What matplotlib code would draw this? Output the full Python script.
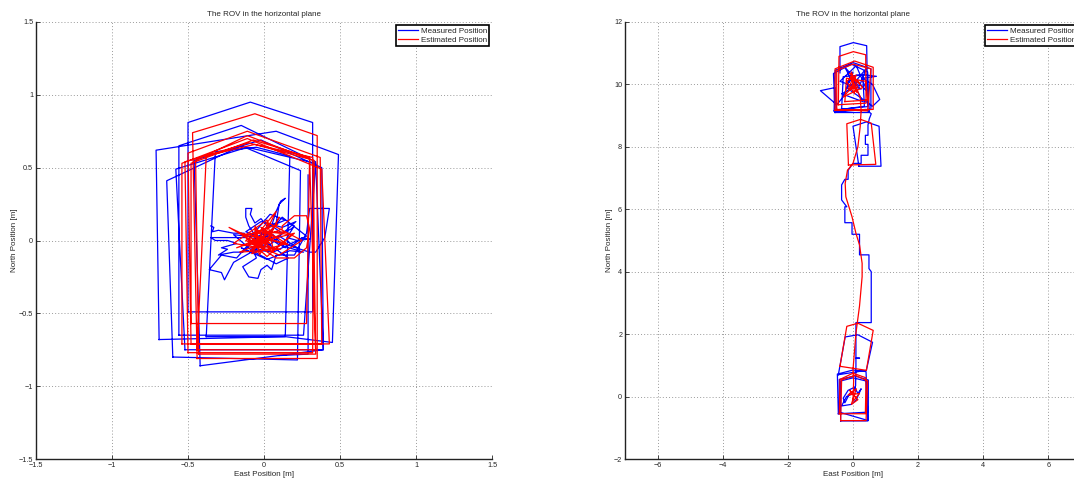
import numpy as np
import matplotlib
matplotlib.use("Agg")
import matplotlib.pyplot as plt

nan = np.nan

# ---------------- Left panel data (East, North) ----------------
left_meas_x = [
    -0.50, -0.50, -0.09, 0.32, 0.32, -0.50, nan,
    -0.69, -0.71, 0.08, 0.49, 0.45, 0.14, -0.69, nan,
    -0.56, -0.56, -0.15, 0.34, 0.26, -0.56, nan,
    -0.60, -0.64, -0.15, 0.24, 0.22, -0.60, nan,
    -0.52, -0.58, -0.11, 0.34, 0.39, -0.52, nan,
    -0.42, -0.46, -0.02, 0.38, 0.39, -0.42, nan,
    -0.38, -0.32, -0.05, 0.17, 0.14, -0.38, nan,
    0.29, 0.29, 0.10, nan,
    -0.35, -0.33, -0.34, -0.30, -0.20, -0.13, -0.12, -0.35, -0.32, -0.24,
    -0.18, -0.28, -0.24, -0.30, -0.20, -0.14, -0.10, -0.05, -0.10, -0.12,
    -0.12, -0.08, -0.09, -0.06, -0.02, 0.02, 0.08, 0.10, 0.14, 0.11,
    0.08, 0.05, 0.12, 0.18, 0.20, 0.15, 0.22, 0.30, 0.25, 0.18,
    0.30, 0.34, 0.40, 0.43, 0.30, 0.28, 0.20, 0.08, 0.05, 0.02,
    -0.02, -0.04, -0.10, -0.14, -0.05, -0.08, 0.00, -0.20, -0.26, -0.28,
    -0.36, -0.28, -0.18, -0.08, 0.00, 0.08, 0.14, 0.06, -0.02, 0.10,
    0.22, 0.05, -0.12, -0.02, 0.12, 0.21, 0.05, -0.07, -0.15, 0.02,
    0.17, 0.26, 0.10, -0.04, -0.10, 0.04, 0.14, 0.00, -0.06, 0.08,
    0.16, -0.03, -0.20, -0.09, 0.06, 0.28, 0.12, -0.01,
]
left_meas_y = [
    -0.49, 0.81, 0.95, 0.81, -0.49, -0.49, nan,
    -0.68, 0.62, 0.75, 0.59, -0.70, -0.66, -0.68, nan,
    -0.65, 0.65, 0.79, 0.54, -0.65, -0.65, nan,
    -0.80, 0.41, 0.65, 0.48, -0.82, -0.80, nan,
    -0.75, 0.49, 0.64, 0.53, -0.75, -0.75, nan,
    -0.86, 0.55, 0.69, 0.50, -0.75, -0.86, nan,
    -0.66, 0.61, 0.64, 0.58, -0.66, -0.66, nan,
    0.45, -0.78, -0.79, nan,
    0.10, 0.09, 0.06, 0.07, 0.05, 0.05, 0.02, 0.02, 0.00, 0.00,
    -0.02, -0.05, -0.06, -0.10, -0.08, -0.08, -0.04, 0.02, 0.10, 0.16,
    0.22, 0.22, 0.18, 0.12, 0.15, 0.10, 0.12, 0.25, 0.29, 0.27,
    0.20, 0.10, 0.05, 0.08, 0.10, 0.02, 0.00, 0.01, 0.02, -0.04,
    -0.08, -0.08, 0.02, 0.22, 0.22, 0.05, -0.10, -0.10, -0.20, -0.17,
    -0.20, -0.26, -0.25, -0.18, -0.12, -0.05, -0.03, -0.15, -0.27, -0.22,
    -0.20, -0.10, -0.12, 0.00, 0.05, 0.00, -0.05, 0.04, -0.01, 0.03,
    -0.05, 0.00, 0.06, 0.13, 0.09, 0.13, -0.02, -0.09, -0.05, -0.13,
    -0.07, -0.08, -0.03, 0.07, 0.01, 0.18, 0.14, 0.08, -0.08, -0.16,
    -0.12, 0.02, 0.04, -0.06, -0.08, 0.03, 0.16, 0.00,
]

left_est_x = [
    -0.44, -0.47, -0.06, 0.35, 0.35, -0.44, nan,
    -0.48, -0.50, -0.11, 0.37, 0.38, -0.48, nan,
    -0.54, -0.54, -0.11, 0.38, 0.43, -0.54, nan,
    -0.50, -0.52, -0.10, 0.33, 0.32, -0.50, nan,
    -0.48, -0.48, -0.07, 0.30, 0.28, -0.48, nan,
    -0.44, -0.38, -0.06, 0.32, 0.34, -0.44, nan,
    -0.43, -0.45, -0.11, 0.30, 0.34, -0.43, nan,
    -0.05, -0.23, 0.00, 0.10, -0.03, -0.06, 0.05, 0.20, -0.10, 0.08,
    -0.04, -0.15, 0.15, -0.08, 0.03, 0.25, 0.10, -0.12, 0.00, 0.05,
    -0.18, 0.12, 0.12, 0.20, 0.28, 0.30, 0.28, 0.20, 0.08, -0.02,
    -0.20, 0.02, 0.06, -0.07, 0.14, -0.09, 0.00, 0.04, -0.04, 0.09,
    -0.13, 0.02, 0.18, -0.06, -0.01, 0.11, -0.16, 0.07, -0.02, 0.16,
    -0.09, 0.01, -0.05,
]
left_est_y = [
    -0.81, 0.74, 0.87, 0.72, -0.81, -0.81, nan,
    -0.71, 0.60, 0.75, 0.57, -0.71, -0.71, nan,
    -0.71, 0.53, 0.70, 0.49, -0.71, -0.71, nan,
    -0.77, 0.54, 0.67, 0.55, -0.77, -0.77, nan,
    -0.57, 0.53, 0.69, 0.57, -0.57, -0.57, nan,
    -0.75, 0.58, 0.66, 0.57, -0.75, -0.75, nan,
    -0.78, 0.55, 0.72, 0.56, -0.78, -0.78, nan,
    0.00, 0.09, -0.05, 0.16, -0.10, 0.10, -0.08, 0.05, -0.03, 0.20,
    -0.05, 0.05, -0.02, -0.09, 0.12, 0.00, -0.10, 0.00, 0.08, 0.03,
    -0.05, 0.08, 0.10, 0.17, 0.17, 0.08, -0.05, -0.12, -0.12, -0.05,
    -0.02, 0.14, -0.06, 0.05, 0.06, -0.07, 0.02, -0.02, 0.00, 0.11,
    0.03, -0.11, 0.04, 0.07, -0.04, -0.06, -0.08, 0.02, 0.09, -0.03,
    0.04, -0.01, 0.01,
]

# ---------------- Right panel data (East, North) ----------------
right_meas_x = [
    -0.10, -0.25, -0.30, -0.15, 0.05, 0.15, 0.25, 0.10, -0.05, -0.35,
    -0.20, 0.00, 0.08, 0.09, 0.09, 0.20, 0.09, 0.09, 0.56, 0.56,
    0.49, 0.49, 0.20, 0.20, -0.03, -0.03, -0.25, -0.25, -0.19, -0.35,
    -0.35, -0.25, -0.15, -0.15, 0.00, 0.25, 0.25, 0.46, 0.46, 0.38,
    0.38, 0.46, 0.46, 0.50, 0.56, 0.40,
    -0.50, -0.55, -1.00, -0.50, -0.30, 0.00, -0.20, 0.10, 0.40, 0.72,
    0.30, 0.60, 0.82, 0.60, 0.20, -0.20, 0.10, -0.10, 0.20, 0.40,
    0.00, -0.15, 0.15, 0.05, -0.35, 0.30, -0.25, 0.45, 0.10, -0.40,
    0.25, 0.00, nan,
    -0.40, -0.40, 0.01, 0.42, 0.45, -0.40, nan,
    -0.58, -0.55, 0.00, 0.55, 0.55, -0.58, nan,
    -0.55, -0.60, -0.05, 0.45, 0.50, -0.55, nan,
    -0.35, -0.30, 0.30, 0.35, -0.35, nan,
    0.18, 0.00, 0.41, 0.80, 0.86, 0.18, nan,
    -0.45, -0.24, 0.15, 0.60, 0.41, -0.45, nan,
    -0.42, -0.42, 0.06, 0.47, 0.47, -0.42, nan,
    -0.45, -0.48, 0.00, 0.40, 0.45, -0.45, nan,
    -0.38, -0.38, 0.00, 0.40, 0.45, -0.38,
]
right_meas_y = [
    0.10, -0.20, -0.05, 0.20, 0.30, 0.10, 0.25, -0.10, -0.25, -0.30,
    0.00, 0.10, 0.35, 1.00, 1.23, 1.23, 1.23, 2.37, 2.37, 4.00,
    4.10, 4.54, 4.54, 5.20, 5.20, 5.57, 5.57, 6.08, 6.08, 6.30,
    6.78, 6.96, 6.96, 7.25, 7.47, 7.47, 7.73, 7.73, 8.08, 8.08,
    8.37, 8.37, 8.70, 8.90, 9.06, 9.20,
    9.12, 9.90, 9.80, 9.35, 9.60, 10.40, 10.00, 10.30, 10.30, 10.26,
    10.20, 10.00, 9.52, 9.30, 9.60, 9.90, 10.10, 10.20, 9.95, 10.50,
    10.00, 9.80, 10.15, 9.90, 9.70, 9.45, 10.55, 9.75, 10.60, 10.10,
    9.85, 10.05, nan,
    10.37, 11.21, 11.34, 11.24, 9.29, 9.20, nan,
    9.15, 10.45, 10.70, 10.50, 9.20, 9.15, nan,
    9.10, 10.35, 10.65, 10.40, 9.10, 9.10, nan,
    9.20, 10.25, 10.30, 9.30, 9.20, nan,
    7.38, 8.66, 8.80, 8.66, 7.38, 7.38, nan,
    0.70, 1.91, 1.98, 1.74, 0.84, 0.70, nan,
    -0.50, 0.55, 0.66, 0.53, -0.77, -0.50, nan,
    -0.55, 0.72, 0.85, 0.80, -0.50, -0.55, nan,
    -0.78, 0.50, 0.60, 0.50, -0.78, -0.78,
]

right_est_x = [
    0.05, -0.10, 0.15, -0.05, 0.10, -0.15, 0.20, 0.00, 0.02, 0.00,
    0.09, 0.20, 0.28, 0.28, 0.20, 0.09, -0.03, -0.22, -0.24, -0.17,
    0.00, 0.15, 0.22, 0.25, 0.22, 0.05,
    -0.10, 0.10, -0.20, 0.05, -0.05, 0.15, -0.15, 0.00, 0.20, -0.10,
    0.30, -0.30, 0.05, -0.08, 0.12, -0.02, nan,
    -0.45, -0.43, 0.01, 0.39, 0.40, -0.45, nan,
    -0.55, -0.55, 0.05, 0.62, 0.62, -0.55, nan,
    -0.50, -0.50, 0.00, 0.55, 0.45, -0.50, nan,
    -0.25, -0.20, 0.40, 0.45, -0.25, nan,
    -0.14, -0.19, 0.23, 0.56, 0.70, -0.14, nan,
    -0.40, -0.19, 0.15, 0.62, 0.41, -0.40, nan,
    -0.38, -0.35, 0.06, 0.45, 0.40, -0.38, nan,
    -0.42, -0.40, 0.00, 0.40, 0.38, -0.42,
]
right_est_y = [
    0.00, 0.20, -0.10, -0.25, 0.25, 0.05, 0.10, -0.15, 0.50, 0.86,
    2.03, 2.90, 3.84, 4.27, 4.86, 5.23, 5.76, 6.40, 6.83, 7.25,
    7.47, 8.00, 8.64, 9.17, 9.60, 10.00,
    9.80, 10.30, 10.10, 9.70, 10.40, 9.90, 9.85, 10.20, 10.05, 10.35,
    9.90, 9.60, 10.00, 10.25, 9.75, 10.10, nan,
    9.35, 10.90, 11.05, 10.95, 9.40, 9.35, nan,
    9.17, 10.50, 10.75, 10.55, 9.20, 9.17, nan,
    9.20, 10.45, 10.65, 10.50, 9.15, 9.20, nan,
    9.45, 10.20, 10.10, 9.50, 9.45, nan,
    7.42, 8.74, 8.88, 8.76, 7.44, 7.42, nan,
    0.97, 2.25, 2.35, 2.12, 0.84, 0.97, nan,
    -0.77, 0.53, 0.68, 0.50, -0.77, -0.77, nan,
    -0.55, 0.55, 0.75, 0.60, -0.55, -0.55,
]

title_text = "The ROV in the horizontal plane"
xlabel = "East Position [m]"
ylabel = "North Position [m]"
legend_labels = ["Measured Position", "Estimated Position"]

left_xticks = [-1.5, -1, -0.5, 0, 0.5, 1, 1.5]
left_yticks = [-1.5, -1, -0.5, 0, 0.5, 1, 1.5]
right_xticks = [-6, -4, -2, 0, 2, 4, 6]
right_yticks = [-2, 0, 2, 4, 6, 8, 10, 12]

plt.rcParams['font.family'] = ['Liberation Sans', 'DejaVu Sans']

fig = plt.figure(figsize=(10.74, 4.8), dpi=100)
W, H = 1074.0, 480.0
ax1 = fig.add_axes([36 / W, 21 / H, 456 / W, 437 / H])
ax2 = fig.add_axes([625 / W, 21 / H, 456 / W, 437 / H])

TXT = '#262626'


def style(ax, xlim, ylim, xt, yt):
    ax.set_xlim(*xlim)
    ax.set_ylim(*ylim)
    ax.set_xticks(xt)
    ax.set_yticks(yt)
    ax.set_xticklabels([f"{v:g}".replace('-', '\u2212') for v in xt])
    ax.set_yticklabels([f"{v:g}".replace('-', '\u2212') for v in yt])
    ax.grid(True, color='#9a9a9a', linestyle=(0, (1, 2.2)), linewidth=0.7)
    ax.set_axisbelow(True)
    for s in ['top', 'right']:
        ax.spines[s].set_visible(False)
    for s in ['left', 'bottom']:
        ax.spines[s].set_linewidth(1.0)
        ax.spines[s].set_color('#222222')
    ax.tick_params(direction='in', length=3, width=0.6, labelsize=5.2,
                   colors=TXT, pad=2)
    ax.set_title(title_text, fontsize=5.8, pad=4.5, color=TXT)
    ax.set_xlabel(xlabel, fontsize=5.8, labelpad=1.5, color=TXT)
    ax.set_ylabel(ylabel, fontsize=5.8, labelpad=0.5, color=TXT)


for ax, mx, my, ex, ey in [
    (ax1, left_meas_x, left_meas_y, left_est_x, left_est_y),
    (ax2, right_meas_x, right_meas_y, right_est_x, right_est_y),
]:
    ax.plot(mx, my, color='#0000ff', lw=0.9, label=legend_labels[0])
    ax.plot(ex, ey, color='#ff0000', lw=0.9, label=legend_labels[1])

style(ax1, (-1.5, 1.5), (-1.5, 1.5), left_xticks, left_yticks)
style(ax2, (-7, 7), (-2, 12), right_xticks, right_yticks)

for ax in (ax1, ax2):
    leg = ax.legend(loc='upper right', fontsize=5.8, fancybox=False,
                    framealpha=1, edgecolor='black', borderpad=0.3,
                    labelspacing=0.15, handlelength=2.4, handletextpad=0.35,
                    borderaxespad=0.35)
    leg.get_frame().set_linewidth(1.2)
    for t in leg.get_texts():
        t.set_color(TXT)

fig.savefig('out.png', dpi=100)
